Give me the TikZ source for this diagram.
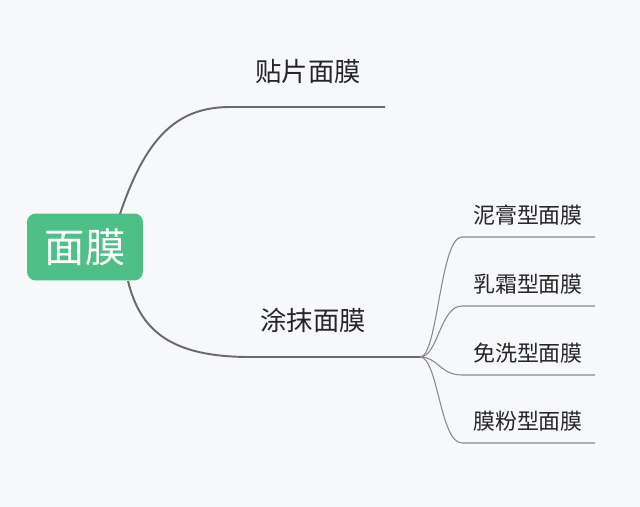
\documentclass[tikz,border=0pt]{standalone}
\usepackage{fontspec}
\setmainfont{Noto Sans CJK SC}
\definecolor{rootgreen}{HTML}{4DBF87}
\definecolor{bggray}{HTML}{F7F8FA}
\definecolor{linegray}{HTML}{6A6A6A}
\tikzset{
  branch/.style={draw=linegray,line width=1.1pt},
  twig/.style={draw=linegray!80,line width=0.6pt},
  mainlabel/.style={font=\fontsize{15}{15}\selectfont,text=black!85},
  sublabel/.style={font=\fontsize{12.5}{12.5}\selectfont,text=black!85},
}
\begin{document}
\begin{tikzpicture}[x=0.02cm,y=-0.02cm]
\fill[bggray] (0,0) rectangle (640,507);
\useasboundingbox (0,0) rectangle (640,507);
% root
\node[fill=rootgreen,rounded corners=5pt,minimum width=2.32cm,minimum height=1.34cm,
  text=white,font=\fontsize{23}{23}\selectfont] (root) at (85,247) {面膜};
% first level
\coordinate (p1) at (230,107);
\coordinate (e1) at (385,107);
\coordinate (p2) at (250,357);
\coordinate (e2) at (420,357);
\draw[branch] (120,214) .. controls (145,140) and (175,107) .. (p1) -- (e1);
\draw[branch] (128,281) .. controls (140,330) and (170,357) .. (p2) -- (e2);
\node[mainlabel] (pian) at (308,72) {贴片面膜};
\node[mainlabel] (tu) at (313,320) {涂抹面膜};
% second level
\foreach \y/\t [count=\i] in {237/泥膏型面膜,306/乳霜型面膜,375/免洗型面膜,443/膜粉型面膜}{
  \coordinate (s\i) at (462,\y);
  \draw[twig] (e2) .. controls (438,357) and (440,\y) .. (s\i) -- (595,\y);
  \node[sublabel] (t\i) at (528,\y-22) {\t};
}
\end{tikzpicture}
\end{document}
